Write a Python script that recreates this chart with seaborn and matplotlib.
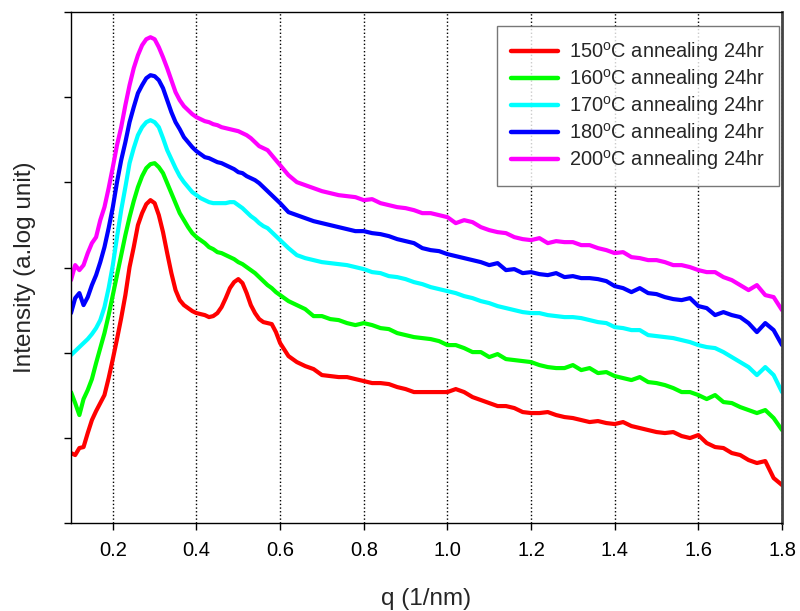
import numpy as np
import pandas as pd
import seaborn as sns
import matplotlib.pyplot as plt

# q grid (1/nm): fine steps over the peaks, coarser in the tail
q_low = [0.10, 0.11, 0.12, 0.13, 0.14, 0.15, 0.16, 0.17, 0.18, 0.19,
         0.20, 0.21, 0.22, 0.23, 0.24, 0.25, 0.26, 0.27, 0.28, 0.29,
         0.30, 0.31, 0.32, 0.33, 0.34, 0.35, 0.36, 0.37, 0.38, 0.39,
         0.40, 0.41, 0.42, 0.43, 0.44, 0.45, 0.46, 0.47, 0.48, 0.49,
         0.50, 0.51, 0.52, 0.53, 0.54, 0.55, 0.56, 0.57, 0.58, 0.59, 0.60]
q_high = [0.62, 0.64, 0.66, 0.68, 0.70, 0.72, 0.74, 0.76, 0.78, 0.80,
          0.82, 0.84, 0.86, 0.88, 0.90, 0.92, 0.94, 0.96, 0.98, 1.00,
          1.02, 1.04, 1.06, 1.08, 1.10, 1.12, 1.14, 1.16, 1.18, 1.20,
          1.22, 1.24, 1.26, 1.28, 1.30, 1.32, 1.34, 1.36, 1.38, 1.40,
          1.42, 1.44, 1.46, 1.48, 1.50, 1.52, 1.54, 1.56, 1.58, 1.60,
          1.62, 1.64, 1.66, 1.68, 1.70, 1.72, 1.74, 1.76, 1.78, 1.80]
q = q_low + q_high

# intensity, arbitrary log units (curves offset vertically)
i150 = [70, 68, 75, 76, 90, 103, 112, 120, 128, 145,
        164, 184, 205, 228, 256, 276, 298, 310, 319, 323,
        320, 308, 291, 270, 250, 233, 223, 218, 215, 212,
        210, 209, 208, 206, 207, 210, 216, 225, 235, 241,
        244, 240, 230, 218, 210, 204, 201, 200, 199, 191, 180,
        167, 161, 157, 154, 148, 147, 146, 146, 144, 142,
        140, 140, 139, 136, 134, 131, 131, 131, 131, 131,
        134, 131, 126, 123, 120, 117, 117, 115, 111, 110,
        110, 111, 108, 106, 105, 103, 101, 102, 100, 99,
        101, 97, 95, 93, 91, 90, 91, 87, 85, 88,
        80, 76, 75, 70, 68, 63, 60, 62, 45, 38]
i160 = [131, 120, 108, 124, 133, 144, 160, 175, 190, 208,
        228, 248, 268, 288, 306, 322, 336, 347, 355, 359,
        360, 356, 350, 340, 330, 320, 310, 303, 296, 290,
        286, 283, 280, 276, 274, 271, 270, 268, 266, 264,
        261, 259, 256, 253, 250, 246, 242, 238, 235, 231, 228,
        222, 218, 214, 207, 207, 204, 203, 200, 198, 200,
        198, 195, 194, 190, 188, 186, 185, 184, 182, 178,
        178, 175, 171, 171, 166, 169, 164, 163, 162, 161,
        158, 156, 155, 155, 158, 153, 155, 150, 151, 147,
        145, 143, 146, 141, 140, 138, 135, 131, 131, 128,
        124, 128, 121, 120, 116, 113, 110, 113, 105, 93]
i170 = [168, 172, 176, 180, 184, 189, 195, 203, 216, 235,
        258, 286, 313, 336, 360, 375, 388, 396, 401, 403,
        401, 396, 385, 373, 364, 355, 347, 341, 336, 331,
        328, 325, 323, 321, 320, 320, 320, 320, 321, 321,
        318, 315, 311, 307, 304, 300, 297, 295, 291, 287, 283,
        275, 268, 265, 263, 261, 260, 259, 258, 256, 254,
        251, 250, 247, 246, 244, 241, 239, 236, 234, 232,
        230, 227, 225, 222, 220, 217, 215, 213, 211, 210,
        210, 208, 207, 206, 206, 205, 203, 201, 200, 196,
        195, 193, 193, 188, 187, 186, 185, 183, 181, 178,
        176, 175, 171, 166, 161, 156, 148, 156, 148, 131]
i180 = [210, 225, 230, 218, 226, 238, 248, 261, 276, 295,
        316, 341, 363, 381, 401, 416, 430, 438, 445, 448,
        447, 443, 435, 423, 411, 401, 394, 386, 381, 376,
        372, 369, 366, 365, 363, 361, 360, 358, 356, 354,
        351, 350, 347, 345, 343, 340, 336, 332, 328, 324, 320,
        311, 308, 305, 302, 300, 298, 296, 294, 292, 292,
        290, 289, 287, 284, 282, 280, 275, 273, 272, 269,
        267, 265, 263, 261, 258, 260, 253, 254, 250, 251,
        249, 248, 250, 246, 247, 245, 245, 244, 242, 237,
        235, 231, 235, 230, 229, 226, 224, 223, 225, 217,
        215, 208, 211, 208, 206, 200, 191, 200, 193, 178]
i200 = [243, 258, 253, 258, 270, 280, 286, 303, 316, 335,
        356, 378, 396, 418, 438, 455, 468, 478, 484, 486,
        484, 476, 466, 455, 443, 431, 423, 417, 413, 409,
        406, 404, 402, 401, 399, 398, 396, 395, 394, 393,
        392, 390, 388, 385, 381, 377, 375, 373, 368, 363, 358,
        348, 341, 338, 335, 332, 330, 328, 327, 326, 323,
        324, 320, 318, 316, 315, 313, 310, 310, 308, 306,
        300, 303, 301, 296, 293, 291, 290, 286, 284, 283,
        285, 280, 282, 281, 281, 278, 278, 275, 273, 270,
        271, 266, 265, 263, 263, 261, 258, 258, 256, 253,
        251, 251, 246, 243, 238, 233, 238, 228, 226, 213]

labels = [r'150$^{\mathrm{o}}$C annealing 24hr',
          r'160$^{\mathrm{o}}$C annealing 24hr',
          r'170$^{\mathrm{o}}$C annealing 24hr',
          r'180$^{\mathrm{o}}$C annealing 24hr',
          r'200$^{\mathrm{o}}$C annealing 24hr']
colors = ['#ff0000', '#00ff00', '#00ffff', '#0000ff', '#ff00ff']

df = pd.concat([pd.DataFrame({'q': q, 'I': vals, 'sample': lab})
                for vals, lab in zip([i150, i160, i170, i180, i200], labels)])

sns.set_style('white')
plt.rcParams['font.family'] = ['Liberation Sans', 'DejaVu Sans']
plt.rcParams['mathtext.fontset'] = 'custom'
plt.rcParams['mathtext.rm'] = 'Liberation Sans'

fig = plt.figure(figsize=(8, 6.11), dpi=100)
ax = fig.add_axes([0.08875, 0.144, 0.88875, 0.836])

sns.lineplot(data=df, x='q', y='I', hue='sample', palette=colors,
             linewidth=3.0, sort=False, estimator=None, ax=ax)

ax.set_xlim(0.1, 1.8)
ax.set_ylim(0, 511)
ax.set_xticks([0.2, 0.4, 0.6, 0.8, 1.0, 1.2, 1.4, 1.6, 1.8])
ax.set_xticklabels(['0.2', '0.4', '0.6', '0.8', '1.0', '1.2', '1.4', '1.6', '1.8'])
ax.set_yticks(np.linspace(0, 511, 7))
ax.set_yticklabels([])
ax.tick_params(axis='both', direction='out', length=5, width=1, colors='black',
               labelsize=14.5, pad=8, left=True, bottom=True)
ax.grid(axis='x', linestyle=':', color='black', linewidth=1)
ax.grid(axis='y', visible=False)

for side in ['left', 'bottom', 'top']:
    ax.spines[side].set_color('black')
    ax.spines[side].set_linewidth(1)
ax.spines['right'].set_color('#444444')
ax.spines['right'].set_linewidth(2)

ax.set_xlabel('q (1/nm)', fontsize=17.5, labelpad=20)
ax.set_ylabel('Intensity (a.log unit)', fontsize=17.5, labelpad=12)

leg = ax.legend(loc='upper right', bbox_to_anchor=(0.996, 0.973), borderaxespad=0,
                fontsize=14.4, handlelength=2.35, handletextpad=0.55, labelspacing=0.15,
                frameon=True, fancybox=False, edgecolor='#555555', borderpad=0.7)
leg.get_frame().set_linewidth(1)
for line in leg.get_lines():
    line.set_linewidth(3.2)

fig.savefig('out.png', dpi=100)
